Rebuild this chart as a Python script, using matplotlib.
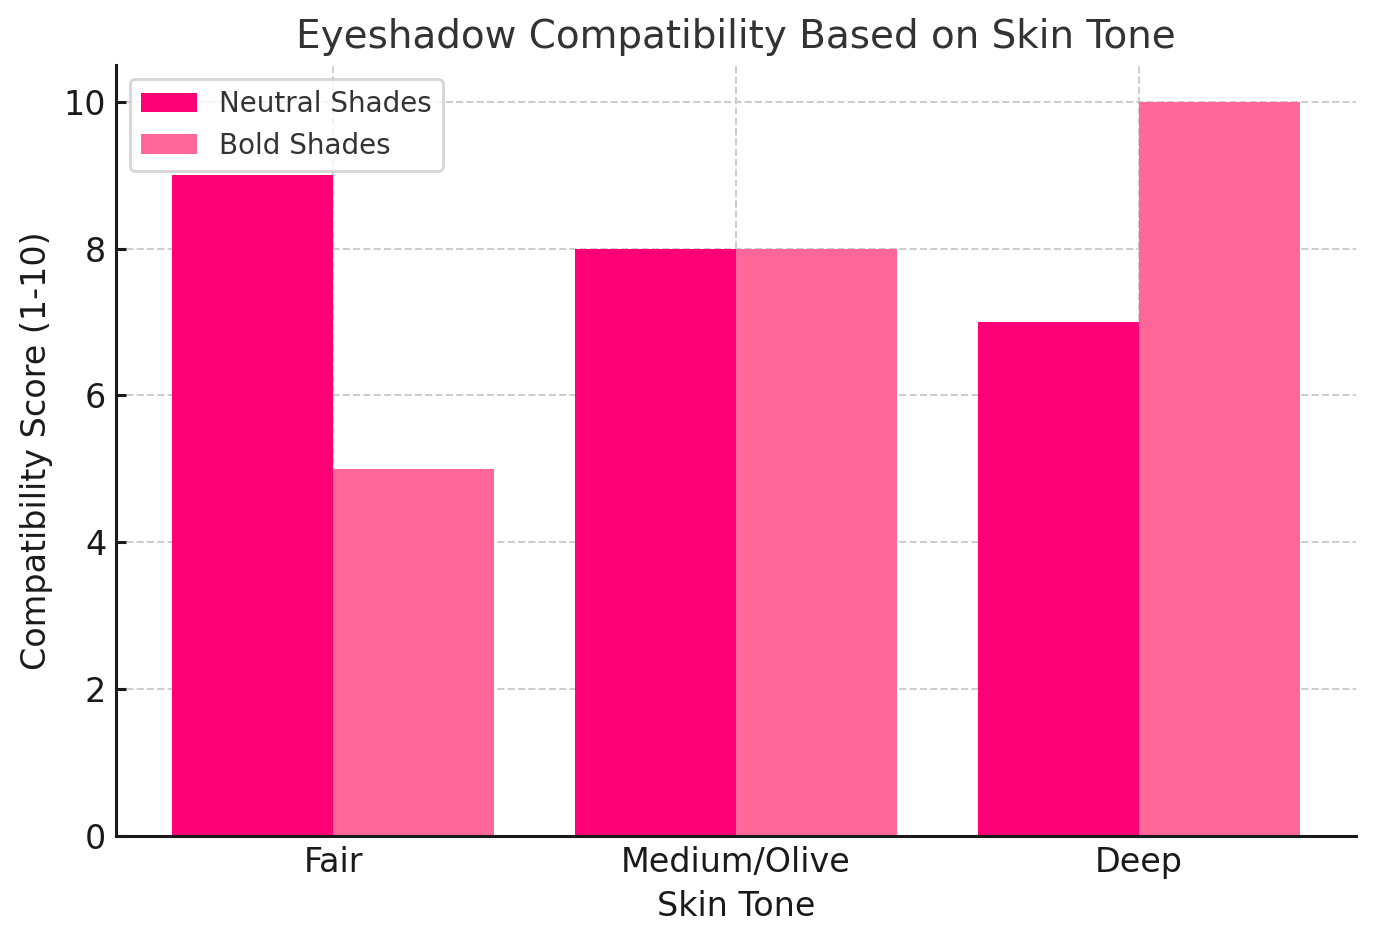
import numpy as np
import matplotlib.pyplot as plt

skin_tones = ['Fair', 'Medium/Olive', 'Deep']
neutral_shades = [9, 8, 7]
bold_shades = [5, 8, 10]

x = np.arange(len(skin_tones))
width = 0.4

fig, ax = plt.subplots(figsize=(6.88, 4.715), dpi=200)
fig.subplots_adjust(left=116 / 1376, right=1356 / 1376, top=1 - 65 / 943, bottom=1 - 836 / 943)
ax.bar(x - width / 2, neutral_shades, width, label='Neutral Shades', color='#FF0077', zorder=2)
ax.bar(x + width / 2, bold_shades, width, label='Bold Shades', color='#FF6699', zorder=2)

ax.set_title('Eyeshadow Compatibility Based on Skin Tone', fontsize=14, color='#333333')
ax.set_xlabel('Skin Tone', fontsize=12, color='#1a1a1a')
ax.set_ylabel('Compatibility Score (1-10)', fontsize=12, color='#1a1a1a', labelpad=4)
ax.set_xticks(x)
ax.set_xticklabels(skin_tones)
ax.tick_params(labelsize=12, colors='#1a1a1a', direction='in', width=1.1)
ax.grid(True, linestyle='--', color='#cccccc', linewidth=0.7, zorder=0)
ax.spines['top'].set_visible(False)
ax.spines['right'].set_visible(False)
for s in ['left', 'bottom']:
    ax.spines[s].set_linewidth(1.1)
    ax.spines[s].set_color('#1a1a1a')
leg = ax.legend(fontsize=10, loc='upper left')
for t in leg.get_texts():
    t.set_color('#333333')

plt.savefig('out.png')
